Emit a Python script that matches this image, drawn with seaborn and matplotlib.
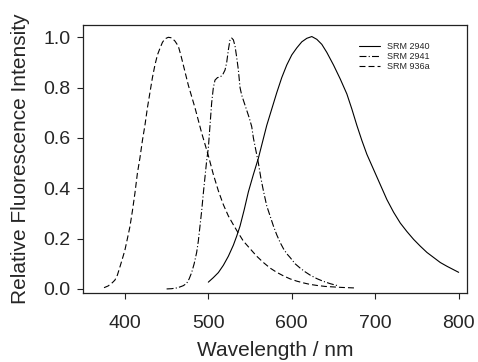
#!/usr/bin/env python3
"""
Fluorescence spectra of SRM 2940, SRM 2941 and SRM 936a.
"""

import pandas as pd
import matplotlib
matplotlib.use("Agg")
import matplotlib.pyplot as plt
import seaborn as sns

# SRM 936a (dashed)
wl_936a = [375, 380, 385, 388, 391, 394, 397, 400, 403, 406, 409, 412, 415, 418,
           421, 424, 427, 430, 433, 436, 439, 442, 445, 448, 452, 456, 460, 464,
           467, 470, 473, 476, 480, 484, 488, 492, 496, 500, 506, 512, 518, 524,
           530, 535, 542, 550, 558, 566, 574, 582, 590, 598, 606, 614, 622, 630,
           640, 650, 660, 675]
int_936a = [0.005, 0.012, 0.025, 0.035, 0.055, 0.087, 0.12, 0.154, 0.2, 0.247,
            0.31, 0.38, 0.46, 0.52, 0.59, 0.65, 0.72, 0.78, 0.84, 0.89, 0.93,
            0.956, 0.98, 0.994, 1.0, 0.998, 0.985, 0.965, 0.93, 0.89, 0.85, 0.81,
            0.765, 0.72, 0.67, 0.62, 0.575, 0.53, 0.455, 0.39, 0.335, 0.29, 0.255,
            0.227, 0.19, 0.16, 0.13, 0.105, 0.083, 0.066, 0.052, 0.04, 0.031,
            0.024, 0.018, 0.014, 0.01, 0.008, 0.006, 0.004]

# SRM 2941 (dash-dot)
wl_2941 = [450, 456, 462, 466, 470, 474, 477, 480, 483, 486, 488, 490, 492, 494,
           496, 498, 500, 502, 504, 506, 508, 511, 514, 517, 520, 522, 524, 526,
           528, 530, 532, 534, 536, 538, 540, 543, 546, 549, 552, 554, 557, 560,
           563, 566, 570, 574, 578, 582, 586, 590, 594, 598, 604, 610, 616, 622,
           630, 638, 646, 655]
int_2941 = [0.0, 0.001, 0.004, 0.008, 0.013, 0.022, 0.04, 0.065, 0.1, 0.145,
            0.19, 0.25, 0.31, 0.38, 0.445, 0.51, 0.56, 0.65, 0.74, 0.8, 0.83,
            0.84, 0.842, 0.85, 0.87, 0.9, 0.95, 0.99, 0.997, 0.99, 0.965, 0.92,
            0.87, 0.8, 0.77, 0.74, 0.71, 0.68, 0.645, 0.6, 0.55, 0.5, 0.44, 0.39,
            0.33, 0.29, 0.25, 0.215, 0.185, 0.16, 0.14, 0.125, 0.1, 0.083, 0.068,
            0.055, 0.041, 0.03, 0.021, 0.013]

# SRM 2940 (solid)
wl_2940 = [500, 506, 512, 518, 524, 530, 534, 538, 543, 548, 554, 560, 565, 570,
           576, 582, 588, 594, 600, 606, 612, 618, 624, 630, 636, 642, 650, 658,
           666, 672, 678, 684, 690, 696, 702, 708, 714, 722, 730, 738, 746, 754,
           762, 770, 778, 786, 793, 800]
int_2940 = [0.027, 0.045, 0.065, 0.094, 0.13, 0.174, 0.21, 0.25, 0.315, 0.386,
            0.455, 0.52, 0.585, 0.65, 0.715, 0.78, 0.84, 0.89, 0.93, 0.958,
            0.982, 0.996, 1.003, 0.992, 0.972, 0.94, 0.89, 0.835, 0.775, 0.715,
            0.65, 0.59, 0.535, 0.49, 0.445, 0.4, 0.355, 0.305, 0.262, 0.228,
            0.197, 0.17, 0.145, 0.125, 0.105, 0.09, 0.078, 0.066]

x_ticks = [400, 500, 600, 700, 800]
y_ticks = [0.0, 0.2, 0.4, 0.6, 0.8, 1.0]

sns.set_theme(style="ticks")
plt.rcParams["font.family"] = ["Liberation Sans", "DejaVu Sans"]
plt.rcParams["lines.scale_dashes"] = False

df = pd.concat([
    pd.DataFrame({"wl": wl_2940, "val": int_2940, "srm": "SRM 2940"}),
    pd.DataFrame({"wl": wl_2941, "val": int_2941, "srm": "SRM 2941"}),
    pd.DataFrame({"wl": wl_936a, "val": int_936a, "srm": "SRM 936a"}),
])

fig = plt.figure(figsize=(4.78, 3.62), dpi=100)
ax = fig.add_axes([0.174, 0.19, 0.803, 0.741])

sns.lineplot(data=df, x="wl", y="val", hue="srm", style="srm",
             palette=["black"] * 3,
             dashes={"SRM 2940": "", "SRM 2941": (5, 1.6, 0.8, 1.6),
                     "SRM 936a": (4.3, 2.2)},
             linewidth=0.8, sort=False, estimator=None, ax=ax)

ax.set_xlim(350, 810)
ax.set_ylim(-0.017, 1.049)
ax.set_xticks(x_ticks)
ax.set_yticks(y_ticks)
ax.set_yticklabels([f"{v:.1f}" for v in y_ticks])
ax.tick_params(axis="both", labelsize=14, length=4, width=0.8, color="#222222",
               direction="out")
ax.tick_params(axis="x", pad=12)
ax.tick_params(axis="y", pad=5)
ax.set_xlabel("Wavelength / nm", fontsize=15, labelpad=6)
ax.set_ylabel("Relative Fluorescence Intensity", fontsize=15, labelpad=10)
for s in ax.spines.values():
    s.set_color("#222222")
    s.set_linewidth(0.9)

leg = ax.legend(loc="upper right", frameon=False, fontsize=6.5, handlelength=2.4,
                labelspacing=0.1, bbox_to_anchor=(0.925, 0.965), title=None)

fig.savefig("out.png", dpi=100)
